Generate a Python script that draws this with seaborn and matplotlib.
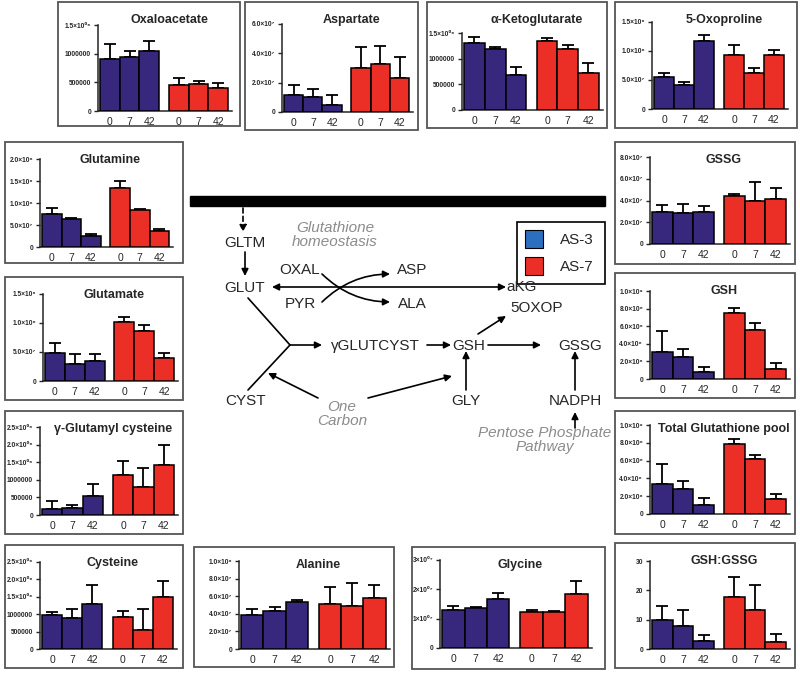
import numpy as np
import pandas as pd
import matplotlib
matplotlib.use("Agg")
import matplotlib.pyplot as plt
import seaborn as sns
from matplotlib.patches import Rectangle

# Groups and time points
groups = ["AS-3", "AS-7"]
days = ["0", "7", "42"]

# Means (AS-3 days 0/7/42, then AS-7 days 0/7/42) and upper error bars
oxal_mean = [900000, 950000, 1040000, 460000, 475000, 400000]
oxal_err = [270000, 100000, 180000, 120000, 50000, 80000]
asp_mean = [1.15e7, 1.0e7, 0.5e7, 3.0e7, 3.3e7, 2.3e7]
asp_err = [0.7e7, 0.6e7, 0.65e7, 1.45e7, 1.2e7, 1.45e7]
akg_mean = [1.30e6, 1.18e6, 0.675e6, 1.35e6, 1.18e6, 0.73e6]
akg_err = [0.115e6, 0.05e6, 0.165e6, 0.045e6, 0.08e6, 0.19e6]
oxop_mean = [5.5e7, 4.2e7, 1.18e8, 9.3e7, 6.2e7, 9.3e7]
oxop_err = [0.7e7, 0.4e7, 1.0e7, 1.7e7, 0.8e7, 0.9e7]
gln_mean = [7.4e7, 6.4e7, 2.6e7, 1.33e8, 8.3e7, 3.6e7]
gln_err = [1.5e7, 0.2e7, 0.3e7, 1.6e7, 0.3e7, 0.5e7]
glu_mean = [4.9e7, 3.0e7, 3.4e7, 1.02e8, 8.6e7, 3.9e7]
glu_err = [1.7e7, 1.6e7, 1.3e7, 0.8e7, 1.1e7, 0.9e7]
ggc_mean = [1.7e5, 1.9e5, 5.3e5, 1.14e6, 8.0e5, 1.41e6]
ggc_err = [2.35e5, 0.9e5, 3.6e5, 3.8e5, 5.3e5, 5.9e5]
cys_mean = [0.99e6, 0.9e6, 1.3e6, 0.91e6, 0.56e6, 1.49e6]
cys_err = [0.07e6, 0.26e6, 0.55e6, 0.18e6, 0.6e6, 0.45e6]
ala_mean = [3.9e7, 4.3e7, 5.3e7, 5.1e7, 4.9e7, 5.85e7]
ala_err = [0.6e7, 0.5e7, 0.25e7, 2.0e7, 2.6e7, 1.4e7]
gly_mean = [1.31e7, 1.35e7, 1.68e7, 1.22e7, 1.24e7, 1.84e7]
gly_err = [0.12e7, 0.06e7, 0.18e7, 0.08e7, 0.03e7, 0.43e7]
gssg_mean = [2.95e7, 2.85e7, 2.9e7, 4.37e7, 4.0e7, 4.18e7]
gssg_err = [0.62e7, 0.8e7, 0.57e7, 0.23e7, 1.7e7, 0.99e7]
gsh_mean = [3.05e8, 2.5e8, 0.76e8, 7.45e8, 5.6e8, 1.17e8]
gsh_err = [2.4e8, 0.9e8, 0.6e8, 0.65e8, 0.75e8, 0.63e8]
tot_mean = [3.4e8, 2.85e8, 1.05e8, 7.9e8, 6.15e8, 1.72e8]
tot_err = [2.2e8, 0.9e8, 0.72e8, 0.5e8, 0.45e8, 0.48e8]
ratio_mean = [9.9, 7.7, 2.8, 17.6, 13.2, 2.3]
ratio_err = [4.7, 5.6, 2.1, 6.8, 8.7, 2.8]

# Y tick values and labels
t_15e6 = [0, 5e5, 1e6, 1.5e6]
l_15e6 = ["0", "500000", "1000000", "1.5×10⁰⁶"]
t_6e7 = [0, 2e7, 4e7, 6e7]
l_6e7 = ["0", "2.0×10⁷", "4.0×10⁷", "6.0×10⁷"]
t_15e8 = [0, 5e7, 1e8, 1.5e8]
l_15e8 = ["0", "5.0×10⁷", "1.0×10⁸", "1.5×10⁸"]
t_2e8 = [0, 5e7, 1e8, 1.5e8, 2e8]
l_2e8 = ["0", "5.0×10⁷", "1.0×10⁸", "1.5×10⁸", "2.0×10⁸"]
t_25e6 = [0, 5e5, 1e6, 1.5e6, 2e6, 2.5e6]
l_25e6 = ["0", "500000", "1000000", "1.5×10⁰⁶", "2.0×10⁰⁶", "2.5×10⁰⁶"]
t_1e8 = [0, 2e7, 4e7, 6e7, 8e7, 1e8]
l_1e8 = ["0", "2.0×10⁷", "4.0×10⁷", "6.0×10⁷", "8.0×10⁷", "1.0×10⁸"]
t_3e7 = [0, 1e7, 2e7, 3e7]
l_3e7 = ["0", "1×10⁰⁷", "2×10⁰⁷", "3×10⁰⁷"]
t_8e7 = [0, 2e7, 4e7, 6e7, 8e7]
l_8e7 = ["0", "2.0×10⁷", "4.0×10⁷", "6.0×10⁷", "8.0×10⁷"]
t_1e9 = [0, 2e8, 4e8, 6e8, 8e8, 1e9]
l_1e9 = ["0", "2.0×10⁸", "4.0×10⁸", "6.0×10⁸", "8.0×10⁸", "1.0×10⁹"]
t_30 = [0, 10, 20, 30]
l_30 = ["0", "10", "20", "30"]

blue = "#37287d"
red = "#ec2f26"
palette = {"AS-3": blue, "AS-7": red}

sns.set_theme(style="ticks")
plt.rcParams["font.family"] = ["Liberation Sans", "DejaVu Sans"]

W, H = 800, 675
fig = plt.figure(figsize=(8, 6.75), dpi=100)

# overlay in pixel coordinates for boxes, titles and the pathway sketch
over = fig.add_axes([0, 0, 1, 1], zorder=3)
over.set_xlim(0, W)
over.set_ylim(H, 0)
over.axis("off")


def panel(title, mean, err, ticks, labels, box, rect):
    bx0, by0, bx1, by1 = box
    over.add_patch(Rectangle((bx0, by0), bx1 - bx0, by1 - by0, fill=False,
                             edgecolor="#555555", lw=1.3))
    x0, y0, x1, y1 = rect
    ax = fig.add_axes([x0 / W, 1 - y1 / H, (x1 - x0) / W, (y1 - y0) / H], zorder=2)
    ax.patch.set_visible(False)
    df = pd.DataFrame({
        "group": [g for g in groups for _ in days],
        "day": days * 2,
        "value": mean,
        "err": err,
    })
    df["pos"] = [i + 3.5 * g for g in range(2) for i in range(3)]
    sns.barplot(data=df, x="pos", y="value", hue="group", palette=palette,
                native_scale=True, dodge=False, width=1, saturation=1,
                edgecolor="black", linewidth=1.1, errorbar=None, legend=False,
                ax=ax, zorder=3)
    ax.errorbar(df["pos"], df["value"], yerr=[np.zeros(len(df)), df["err"]],
                fmt="none", ecolor="black", elinewidth=1.3, capsize=4,
                capthick=1.3, zorder=2)
    ax.set_xlim(-0.6, 6.2)
    ax.set_ylim(0, ticks[-1])
    ax.set_xticks(df["pos"])
    ax.set_xticklabels(df["day"], fontsize=7.5)
    ax.set_yticks(ticks)
    ax.set_yticklabels(labels, fontsize=4.8, fontweight="bold")
    ax.set_xlabel("")
    ax.set_ylabel("")
    ax.tick_params(axis="both", length=3, width=1, pad=2)
    ax.tick_params(axis="x", length=0, pad=4)
    sns.despine(ax=ax)
    for s in ["left", "bottom"]:
        ax.spines[s].set_linewidth(1.1)
    over.text((x0 + x1) / 2 + 4, by0 + 18, title, ha="center", va="center",
              fontsize=9, fontweight="bold")


panel("Oxaloacetate", oxal_mean, oxal_err, t_15e6, l_15e6, (58, 2, 240, 126), (98, 25, 232, 111))
panel("Aspartate", asp_mean, asp_err, t_6e7, l_6e7, (245, 2, 418, 130), (282, 24, 413, 112))
panel("α-Ketoglutarate", akg_mean, akg_err, t_15e6, l_15e6, (427, 2, 607, 128), (462, 33, 603, 110))
panel("5-Oxoproline", oxop_mean, oxop_err, t_15e8, l_15e8, (615, 2, 797, 128), (652, 22, 788, 109))
panel("Glutamine", gln_mean, gln_err, t_2e8, l_2e8, (5, 142, 183, 263), (40, 159, 173, 247))
panel("Glutamate", glu_mean, glu_err, t_15e8, l_15e8, (5, 277, 183, 400), (43, 294, 178, 381))
panel("γ-Glutamyl cysteine", ggc_mean, ggc_err, t_25e6, l_25e6, (5, 411, 183, 534), (40, 427, 178, 515))
panel("Cysteine", cys_mean, cys_err, t_25e6, l_25e6, (5, 545, 183, 668), (40, 562, 177, 649))
panel("Alanine", ala_mean, ala_err, t_1e8, l_1e8, (194, 547, 394, 667), (239, 561, 390, 649))
panel("Glycine", gly_mean, gly_err, t_3e7, l_3e7, (412, 547, 605, 669), (440, 560, 592, 648))
panel("GSSG", gssg_mean, gssg_err, t_8e7, l_8e7, (615, 142, 795, 264), (650, 157, 790, 244))
panel("GSH", gsh_mean, gsh_err, t_1e9, l_1e9, (615, 273, 795, 398), (650, 291, 790, 379))
panel("Total Glutathione pool", tot_mean, tot_err, t_1e9, l_1e9, (615, 411, 795, 534), (650, 425, 790, 514))
panel("GSH:GSSG", ratio_mean, ratio_err, t_30, l_30, (615, 543, 795, 668), (650, 561, 790, 649))

# Pathway sketch
fs = 11
gray = "#8c8c8c"
over.add_patch(Rectangle((190, 196), 415, 10, color="black"))


def arrow(p0, p1, style="-|>", **kw):
    over.annotate("", xy=p1, xytext=p0,
                  arrowprops=dict(arrowstyle=style, color="black", lw=1.2,
                                  mutation_scale=10, shrinkA=0, shrinkB=0, **kw))


arrow((243, 208), (243, 232), linestyle=(0, (3, 2)))
over.text(335, 235, "Glutathione\nhomeostasis", ha="center", va="center",
          fontsize=fs, color=gray, style="italic", linespacing=1.0)
over.text(245, 243, "GLTM", ha="center", va="center", fontsize=fs)
arrow((245, 252), (245, 276))
over.text(245, 288, "GLUT", ha="center", va="center", fontsize=fs)
arrow((272, 287), (506, 287), style="<|-|>")
over.text(300, 270, "OXAL", ha="center", va="center", fontsize=fs)
over.text(412, 270, "ASP", ha="center", va="center", fontsize=fs)
over.text(300, 304, "PYR", ha="center", va="center", fontsize=fs)
over.text(412, 304, "ALA", ha="center", va="center", fontsize=fs)
arrow((322, 274), (390, 302), connectionstyle="arc3,rad=0.2")
arrow((322, 302), (390, 274), connectionstyle="arc3,rad=-0.2")
over.text(522, 287, "aKG", ha="center", va="center", fontsize=fs)

over.plot([248, 290], [298, 345], color="black", lw=1.2)
over.plot([248, 290], [390, 345], color="black", lw=1.2)
arrow((290, 345), (322, 345))
over.text(375, 346, "γGLUTCYST", ha="center", va="center", fontsize=fs)
arrow((427, 345), (451, 345))
over.text(469, 346, "GSH", ha="center", va="center", fontsize=fs)
arrow((488, 345), (541, 345))
over.text(580, 346, "GSSG", ha="center", va="center", fontsize=fs)
arrow((478, 334), (506, 316))
over.text(537, 308, "5OXOP", ha="center", va="center", fontsize=fs)
over.text(466, 401, "GLY", ha="center", va="center", fontsize=fs)
arrow((466, 390), (466, 351))
over.text(575, 401, "NADPH", ha="center", va="center", fontsize=fs)
arrow((575, 390), (575, 351))
over.text(246, 401, "CYST", ha="center", va="center", fontsize=fs)
over.text(342, 414, "One\nCarbon", ha="center", va="center", fontsize=fs,
          color=gray, style="italic", linespacing=1.0)
arrow((318, 398), (268, 373))
arrow((368, 398), (452, 376))
over.text(545, 440, "Pentose Phosphate\nPathway", ha="center", va="center",
          fontsize=fs, color=gray, style="italic", linespacing=1.0)
arrow((575, 428), (575, 412))

# Legend
over.add_patch(Rectangle((517, 222), 88, 62, fill=False, edgecolor="black", lw=1.2))
over.add_patch(Rectangle((525, 230), 18, 18, facecolor="#2b6fc0", edgecolor="black", lw=0.8))
over.add_patch(Rectangle((525, 257), 18, 18, facecolor=red, edgecolor="black", lw=0.8))
over.text(560, 240, "AS-3", va="center", fontsize=fs)
over.text(560, 267, "AS-7", va="center", fontsize=fs)

fig.savefig("out.png", dpi=100)
